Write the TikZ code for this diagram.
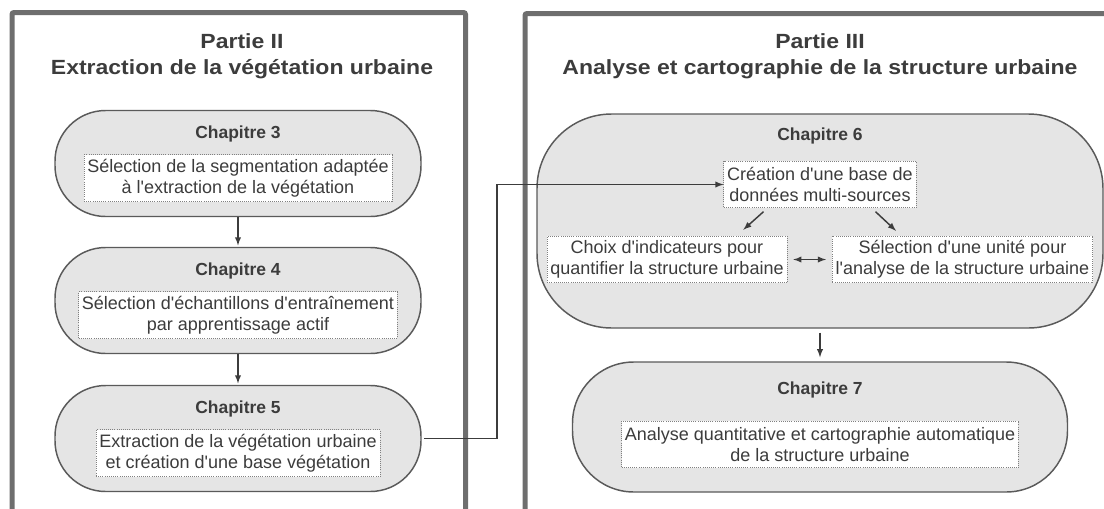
\documentclass[tikz,border=0pt]{standalone}
\usepackage{fontspec}
\setmainfont{Liberation Sans}
\newfontfamily\titlefont[FakeStretch=1.12]{Liberation Sans}
\newcommand{\apos}{\textquotesingle}

\definecolor{txtgray}{HTML}{3C3C3C}
\definecolor{framegray}{HTML}{6E6E6E}
\definecolor{edgegray}{HTML}{5A5A5A}
\definecolor{fillgray}{HTML}{E5E5E5}
\definecolor{dotgray}{HTML}{808080}

\tikzstyle{frame}=[draw=framegray, line width=3.75pt, rounded corners=1.5pt]
\tikzstyle{parttitle}=[align=center, text=txtgray, font=\titlefont\bfseries\fontsize{15.4}{19.5}\selectfont]
\tikzstyle{chapbox}=[draw=edgegray, fill=fillgray, line width=1.1pt, rounded corners=38pt, minimum width=274.5pt, minimum height=79.5pt]
\tikzstyle{chaptitle}=[text=txtgray, font=\bfseries\fontsize{13.1}{14}\selectfont]
\tikzstyle{txtbox}=[draw=dotgray, densely dotted, line width=0.6pt, fill=white, align=center, text=txtgray, font=\fontsize{13.5}{15.8}\selectfont, inner xsep=2.5pt, inner ysep=2.5pt, minimum height=35pt]
\tikzstyle{flow}=[-latex, line width=1.1pt, draw=txtgray]

\begin{document}
\begin{tikzpicture}[x=0.75pt, y=-0.75pt]
      \useasboundingbox (0,0) rectangle (1104,508);
      % frames
      \draw[frame] (12,520) -- (12,12.5) -- (465.5,12.5) -- (465.5,520);
      \draw[frame] (525,520) -- (525,13.5) -- (1120,13.5);
      \node[parttitle] (p2) at (242,56) {Partie II\\Extraction de la végétation urbaine};
      \node[parttitle] (p3) at (820,56) {Partie III\\Analyse et cartographie de la structure urbaine};

      % partie II
      \foreach \n/\y/\txt in {3/163.5/{Sélection de la segmentation adaptée\\à l\apos extraction de la végétation},
          4/300.5/{Sélection d\apos échantillons d\apos entraînement\\par apprentissage actif},
          5/438.5/{Extraction de la végétation urbaine\\et création d\apos une base végétation}} {%
        \node[chapbox] (ch\n) at (238,\y) {};
        \node[chaptitle] (t\n) at (238,\y-29.5) {Chapitre \n};
        \node[txtbox] (b\n) at (238,\y+14.7) {\txt};
      }
      \draw[flow, shorten >=1pt] (ch3) -- (ch4);
      \draw[flow, shorten >=1pt] (ch4) -- (ch5);

      % partie III
      \node[chapbox, minimum width=424.5pt, minimum height=160.5pt, rounded corners=56pt] (ch6) at (820,221) {};
      \node[chaptitle] (t6) at (820,136) {Chapitre 6};
      \node[txtbox] (crea) at (820,184.5) {Création d\apos une base de\\données multi-sources};
      \node[txtbox] (choix) at (667,259.5) {Choix d\apos indicateurs pour\\quantifier la structure urbaine};
      \node[txtbox] (unite) at (962.5,259.5) {Sélection d\apos une unité pour\\l\apos analyse de la structure urbaine};
      \draw[flow] ([xshift=30pt,yshift=-2.6pt]crea.south west) -- ([xshift=-33pt,yshift=4.5pt]choix.north east);
      \draw[flow] ([xshift=-30.75pt,yshift=-2.6pt]crea.south east) -- ([xshift=48pt,yshift=3.75pt]unite.north west);
      \draw[flow, latex-latex, shorten <=4.5pt, shorten >=4.5pt] (choix) -- (unite);

      \node[chapbox, minimum width=371.25pt, minimum height=97.5pt, rounded corners=46pt] (ch7) at (820,427) {};
      \node[chaptitle] (t7) at (820,390) {Chapitre 7};
      \node[txtbox] (b7) at (820,444.5) {Analyse quantitative et cartographie automatique\\de la structure urbaine};
      \draw[flow, shorten <=3pt, shorten >=3pt] (ch6) -- (ch7);

      % chapitre 5 vers chapitre 6
      \coordinate (elbow) at (497,184.5);
      \draw[flow, shorten <=2pt] (ch5.east) -| (elbow) -- (crea.west);
\end{tikzpicture}
\end{document}
